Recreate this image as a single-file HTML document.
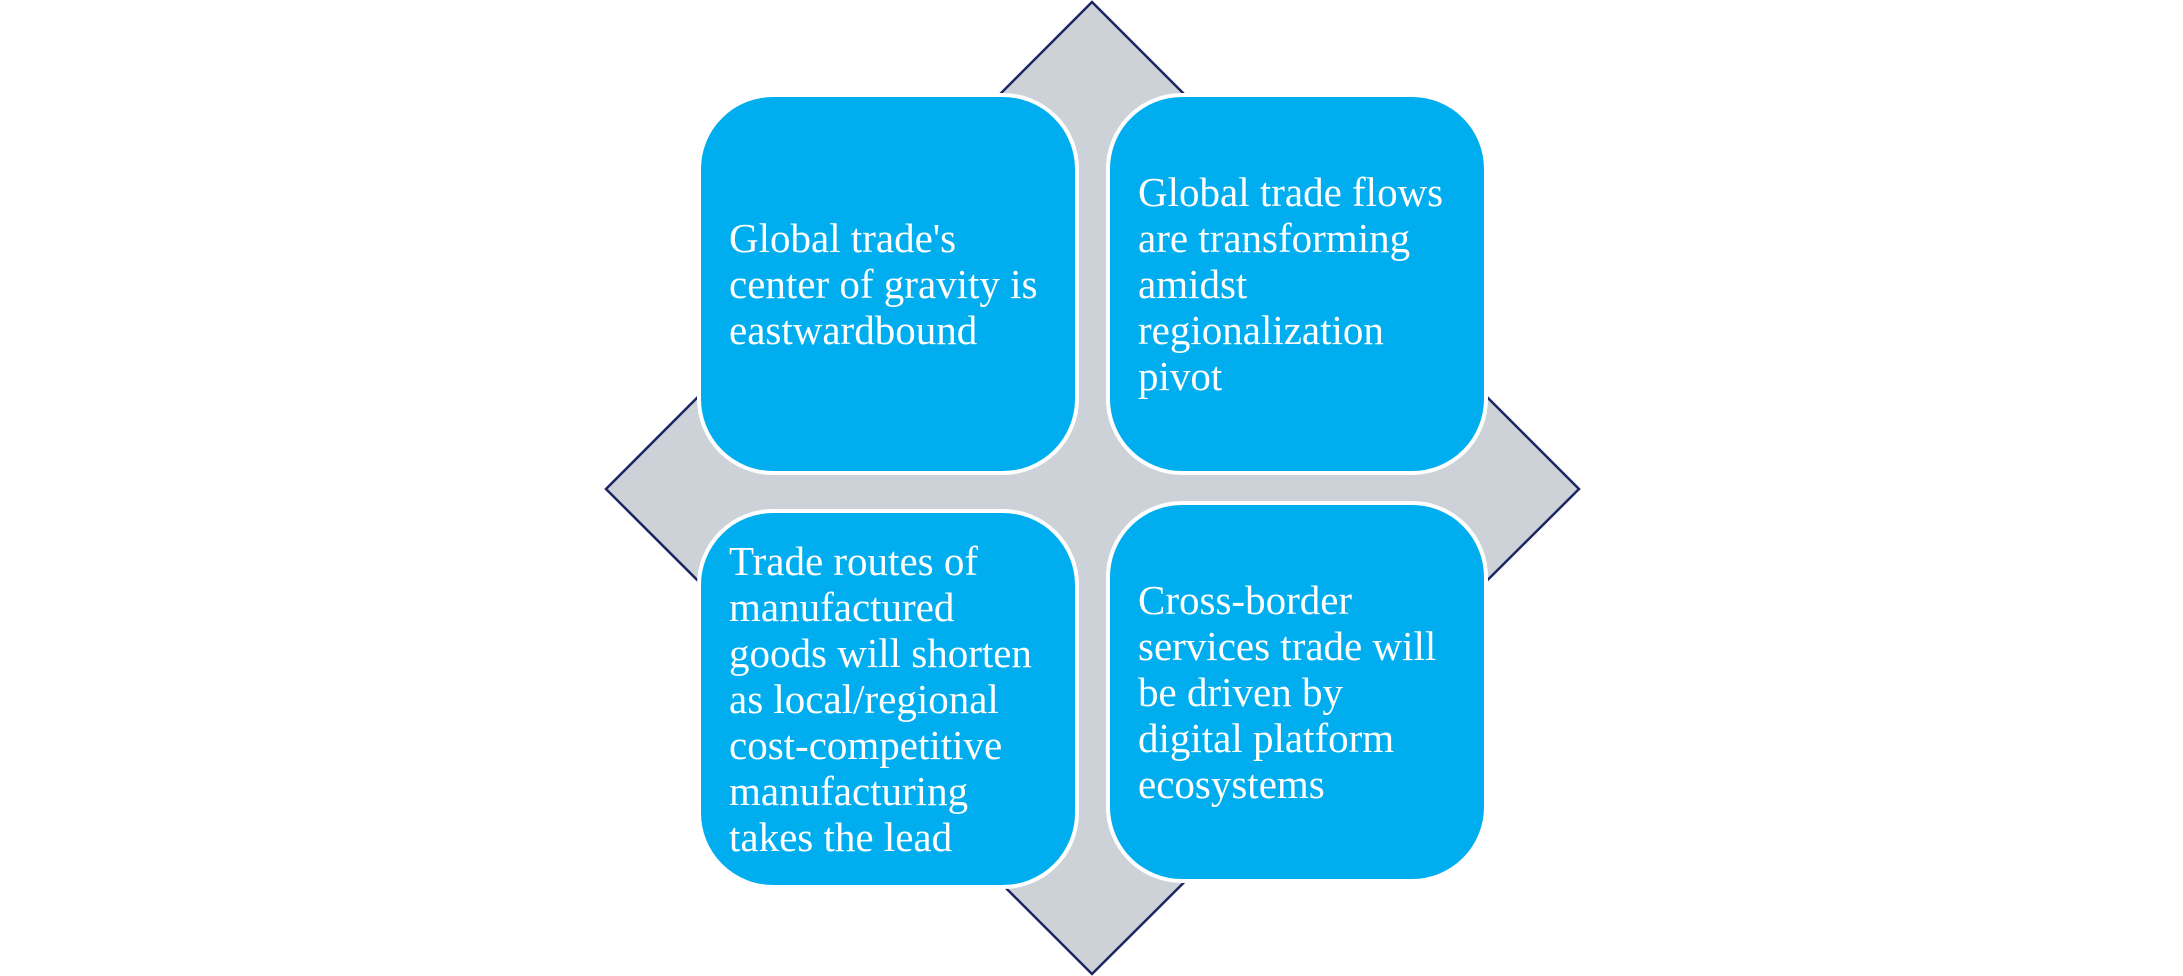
<!DOCTYPE html>
<html><head><style>
body{margin:0;width:2183px;height:976px;background:#fff;position:relative;overflow:hidden;font-family:"Liberation Serif",serif;}
.b{position:absolute;box-sizing:border-box;background:#00aeef;border:4px solid #fff;border-radius:76px;display:flex;align-items:center;padding-left:28px;padding-right:10px;color:#fff;font-size:41px;line-height:46px;white-space:nowrap;}
</style></head><body>
<svg width="2183" height="976" style="position:absolute;left:0;top:0">
<polygon points="1092,2 1579,489 1092,974 606,489" fill="#cdd1d8" stroke="#1b2663" stroke-width="2.5"/>
</svg>
<div class="b" style="left:697px;top:93px;width:382px;height:382px">Global trade's<br>center of gravity is<br>eastwardbound</div>
<div class="b" style="left:1106px;top:93px;width:382px;height:382px">Global trade flows<br>are transforming<br>amidst<br>regionalization<br>pivot</div>
<div class="b" style="left:697px;top:509px;width:382px;height:380px">Trade routes of<br>manufactured<br>goods will shorten<br>as local/regional<br>cost-competitive<br>manufacturing<br>takes the lead</div>
<div class="b" style="left:1106px;top:501px;width:382px;height:382px">Cross-border<br>services trade will<br>be driven by<br>digital platform<br>ecosystems</div>
</body></html>
